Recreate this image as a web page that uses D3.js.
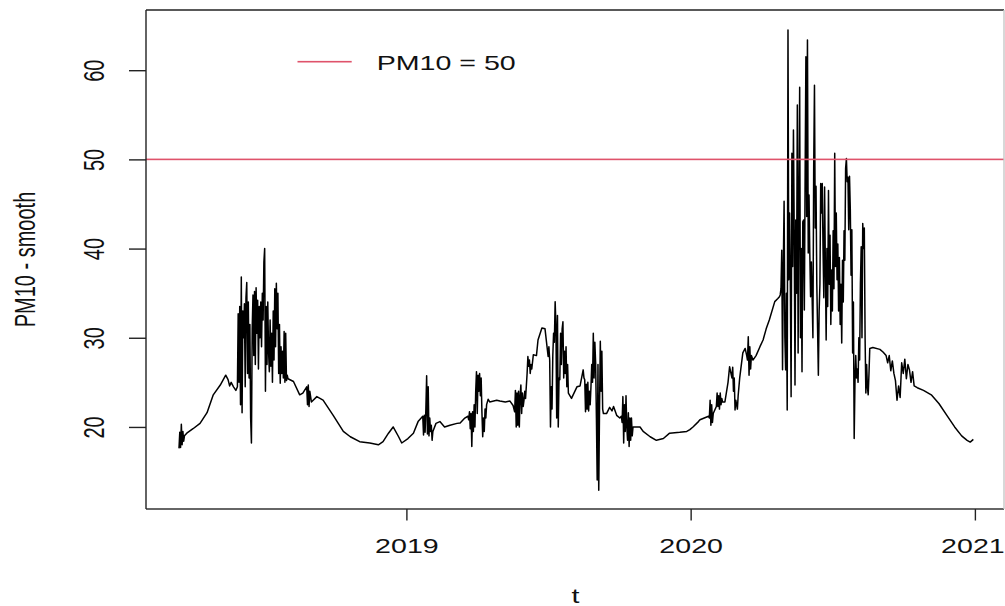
<!DOCTYPE html>
<html>
<head>
<meta charset="utf-8">
<script src="https://cdn.jsdelivr.net/npm/d3@7"></script>
<style>
  html, body { margin: 0; padding: 0; background: #fff; }
  svg { display: block; }
</style>
</head>
<body>
<svg id="chart" width="1005" height="606"></svg>
<script>
// Daily smoothed PM10 series (ts, frequency 365, starting 2018.2)
const seriesStart = 2018.2;
const seriesFreq = 365;

// day index within the series (irregular where the curve is smooth)
const dayIndex = [
  0,1,2,3,4,5,6,7,10,18,27,36,44,53,60,63,65,67,70,73,
  75,76,77,78,79,80,81,82,83,84,85,86,87,88,89,90,91,92,93,94,95,96,97,98,99,100,
  101,102,103,104,105,106,107,108,109,110,111,112,113,114,115,116,117,118,119,120,
  121,122,123,124,125,126,127,128,129,130,131,132,133,134,135,136,137,138,139,140,
  147,155,159,164,165,166,167,168,170,177,185,198,211,220,232,245,256,262,269,275,282,286,294,301,307,
  313,314,315,316,317,318,319,320,321,322,323,324,325,326,330,335,341,348,357,361,367,371,
  372,373,374,375,376,377,378,379,380,381,382,383,384,385,386,387,388,389,390,391,392,393,394,395,
  397,399,408,412,419,425,429,431,
  432,433,434,435,436,437,438,439,440,441,442,443,444,445,446,447,448,449,450,451,452,453,
  455,459,461,466,470,474,
  475,476,477,478,479,480,481,482,483,484,485,486,487,488,489,490,491,492,493,494,495,496,497,498,499,500,
  504,511,515,519,
  520,521,522,523,524,525,526,527,528,529,530,531,532,533,534,535,536,537,538,539,540,541,542,543,544,545,
  549,553,556,558,562,566,568,
  569,570,571,572,573,574,575,576,577,578,579,580,581,582,583,
  588,592,596,605,613,622,630,643,652,656,660,667,669,680,
  681,682,683,684,685,686,
  690,691,692,693,694,695,696,697,698,
  701,705,707,710,
  711,712,713,714,715,716,717,718,
  720,724,727,729,
  730,731,732,733,734,735,
  737,741,746,750,754,758,765,769,771,
  772,773,774,775,776,777,778,779,780,781,782,783,784,785,786,787,788,789,790,791,
  792,793,794,795,796,797,798,799,800,801,802,803,804,805,806,807,808,809,810,811,
  812,813,814,815,816,817,818,819,820,821,822,823,824,825,826,827,828,829,830,831,
  832,833,834,835,836,837,838,839,840,841,842,843,844,845,846,847,848,849,850,851,
  852,853,854,855,856,857,858,859,860,861,862,863,864,865,866,867,868,869,870,871,
  872,873,874,875,876,877,878,879,880,881,882,883,884,885,886,887,
  891,900,904,908,910,912,914,916,918,920,922,924,926,928,930,932,934,936,938,940,
  942,944,948,956,966,976,986,996,1005,1012,1016,1020
];

// smoothed PM10 value for each day above
const pm10Smooth = [
  17.6,19.4,17.7,20.3,18.0,19.5,18.4,19.0,19.3,19.8,20.4,21.6,23.6,24.7,25.8,25.3,24.6,25.0,24.5,24.1,
  24.5,32.7,25.0,33.5,22.5,36.8,21.6,33.0,30.0,33.8,24.5,34.5,36.2,26.0,34.0,25.5,31.5,21.0,18.2,31.0,34.8,28.0,35.2,27.0,35.6,30.5,
  34.2,26.5,33.5,30.0,34.0,29.0,35.0,32.0,38.5,40.0,24.0,33.5,27.0,34.0,28.5,26.2,32.0,26.8,30.5,25.0,
  33.0,27.5,35.5,29.0,36.1,31.0,35.0,26.0,31.5,24.9,29.0,26.0,28.5,25.5,30.7,25.0,30.5,25.2,25.8,25.4,
  25.1,23.6,23.8,24.5,22.5,24.7,22.3,24.0,22.8,23.4,23.0,21.3,19.5,18.9,18.35,18.2,18.0,18.35,19.3,20.0,18.9,18.2,18.7,19.3,20.6,
  21.2,19.1,21.3,19.4,22.0,25.75,19.2,24.5,19.0,21.0,19.5,20.2,18.5,19.5,20.4,20.6,20.0,20.2,20.4,20.45,21.0,21.2,
  20.8,21.7,19.8,21.5,17.8,21.7,19.5,22.5,20.0,24.0,26.2,21.5,25.8,24.0,26.0,23.5,25.5,21.6,18.9,21.0,19.5,22.0,21.0,22.5,
  23.1,22.8,23.0,22.9,22.8,22.9,22.4,21.7,
  24.1,20.0,23.8,20.2,24.0,20.0,23.5,24.7,21.5,23.8,22.3,23.0,24.0,23.2,24.6,26.0,27.9,26.8,27.5,26.0,27.0,26.5,
  28.1,28.0,29.75,31.1,31.0,27.9,
  29.0,27.5,20.0,24.5,22.0,28.0,30.5,29.5,34.05,31.5,21.0,32.5,20.0,25.5,25.3,30.5,27.0,31.0,31.8,25.5,28.5,26.0,29.0,24.5,27.0,23.8,
  23.2,24.5,24.6,26.4,
  25.5,25.3,21.7,24.8,22.0,25.0,21.8,24.0,22.5,24.5,27.0,25.0,30.5,25.5,29.5,27.2,21.0,14.05,27.0,12.9,22.0,29.6,24.0,28.5,22.0,21.5,
  21.5,22.2,21.8,22.3,21.3,21.0,21.2,
  20.5,23.4,18.2,22.5,19.5,23.5,20.0,18.5,21.6,17.8,21.0,18.5,21.0,19.0,20.0,
  20.0,20.0,19.5,18.9,18.5,18.7,19.3,19.4,19.5,19.7,20.0,20.6,20.8,21.2,
  21.0,23.0,20.2,22.5,20.5,21.5,
  22.3,23.8,22.3,23.5,22.0,23.8,22.5,23.2,22.8,
  22.8,25.0,26.75,25.5,
  26.7,24.0,25.5,21.9,23.0,22.5,22.0,23.5,
  25.5,28.3,28.8,28.0,
  27.5,30.1,25.8,29.0,26.5,28.0,
  27.5,28.0,29.0,29.75,31.0,32.0,34.05,34.4,34.6,
  34.8,35.5,39.8,26.4,38.0,45.3,30.0,26.4,35.0,21.9,64.5,36.5,44.0,36.5,23.4,50.7,38.0,53.3,42.0,24.7,
  43.2,35.0,56.1,28.3,45.0,58.1,30.0,40.0,26.2,43.0,43.2,33.1,48.0,61.5,43.6,63.4,39.5,46.0,39.5,34.6,
  38.5,34.6,30.0,49.0,58.3,42.3,47.0,36.0,31.0,25.8,33.0,36.0,47.3,44.0,47.3,40.0,34.5,46.9,38.0,29.75,
  40.0,33.5,46.5,36.0,41.5,31.5,37.6,33.0,42.0,35.5,50.7,38.0,44.0,36.5,40.5,33.0,39.0,31.5,36.0,29.4,
  38.7,34.0,42.0,38.7,49.0,50.1,47.5,48.0,42.1,48.1,44.5,37.0,42.1,28.3,34.0,18.7,25.0,28.0,25.5,26.5,
  25.0,30.0,27.5,36.0,40.2,30.0,42.8,40.0,42.3,30.0,23.8,27.0,24.5,23.6,26.0,28.8,
  28.9,28.7,28.4,28.0,27.2,28.0,26.3,27.4,26.0,25.2,23.0,24.6,23.3,27.2,26.0,27.6,25.4,27.0,26.4,25.0,
  26.2,24.6,24.4,24.1,23.6,22.6,21.3,20.0,19.0,18.5,18.3,18.6
];

const xTickYears = [2019, 2020, 2021];
const yTickValues = [20, 30, 40, 50, 60];
const limitValue = 50;
const legendLabel = "PM10 = 50";
const xTitle = "t";
const yTitle = "PM10 - smooth";

if (dayIndex.length !== pm10Smooth.length) {
  console.error("length mismatch", dayIndex.length, pm10Smooth.length);
}

const points = dayIndex.map((d, i) => ({ t: seriesStart + d / seriesFreq, v: pm10Smooth[i] }));

// ---- layout ----
const plot = { left: 146, right: 1004, top: 10, bottom: 509 };
const font = "'Liberation Sans', Arial, Helvetica, sans-serif";
const fontSize = 20;
const stretch = 1.43;      // wide glyphs of the device
const ink = "#111";
const limitColor = "#DF536B";
const limitWidth = 1.6;

const svg = d3.select("#chart");

const x = d3.scaleLinear().domain([2018.0839, 2021.1024]).range([plot.left, plot.right]);
const y = d3.scaleLinear().domain([10.8, 66.75]).range([plot.bottom, plot.top]);

// clip for the series
svg.append("defs").append("clipPath").attr("id", "plotClip")
  .append("rect")
  .attr("x", plot.left).attr("y", plot.top)
  .attr("width", plot.right - plot.left).attr("height", plot.bottom - plot.top);

// series line
const line = d3.line().x(d => x(d.t)).y(d => y(d.v));
svg.append("path")
  .datum(points)
  .attr("clip-path", "url(#plotClip)")
  .attr("fill", "none")
  .attr("stroke", "#000")
  .attr("stroke-width", 1.5)
  .attr("stroke-linejoin", "round")
  .attr("d", line);

// reference level PM10 = 50, drawn as a thin band across the plot
svg.append("rect")
  .attr("x", plot.left)
  .attr("width", plot.right - plot.left)
  .attr("y", y(limitValue) - limitWidth / 2)
  .attr("height", limitWidth)
  .attr("fill", limitColor);

// plot box
const box = svg.append("g").attr("stroke-width", 1.4).attr("fill", "none");
box.append("line").attr("x1", plot.left).attr("x2", plot.right).attr("y1", plot.top).attr("y2", plot.top).attr("stroke", "#222");
box.append("line").attr("x1", plot.left).attr("x2", plot.right).attr("y1", plot.bottom).attr("y2", plot.bottom).attr("stroke", "#333");
box.append("line").attr("x1", plot.left).attr("x2", plot.left).attr("y1", plot.top).attr("y2", plot.bottom).attr("stroke", "#222");
box.append("line").attr("x1", plot.right).attr("x2", plot.right).attr("y1", plot.top).attr("y2", plot.bottom).attr("stroke", "#c8c8c8");

// y axis
const gy = svg.append("g")
  .attr("transform", `translate(${plot.left},0)`)
  .call(d3.axisLeft(y).tickValues(yTickValues).tickSize(17).tickFormat(d3.format("d")));
gy.select(".domain").remove();
gy.selectAll(".tick line").attr("stroke", "#222").attr("stroke-width", 1.4);
gy.selectAll(".tick text")
  .attr("x", null).attr("dy", null)
  .attr("text-anchor", "middle")
  .attr("fill", ink)
  .style("font-family", font).style("font-size", fontSize + "px")
  .attr("transform", `translate(-42.5,0) scale(${stretch},1) rotate(-90)`);

// x axis
const gx = svg.append("g")
  .attr("transform", `translate(0,${plot.bottom})`)
  .call(d3.axisBottom(x).tickValues(xTickYears).tickSize(11.5).tickFormat(d3.format("d")));
gx.select(".domain").remove();
gx.selectAll(".tick line").attr("stroke", "#222").attr("stroke-width", 1.4);
// the last label sits against the right edge of the device; nudge it inward
gx.selectAll(".tick text")
  .attr("y", null).attr("dy", null)
  .attr("text-anchor", "middle")
  .attr("fill", ink)
  .style("font-family", font).style("font-size", fontSize + "px")
  .attr("transform", (d, i, nodes) =>
    `translate(${i === nodes.length - 1 ? -2.5 : 0},43.7) scale(${stretch},1)`);

// axis titles
svg.append("text")
  .attr("transform", `translate(575.5,603) scale(${stretch},1)`)
  .attr("text-anchor", "middle")
  .attr("fill", ink)
  .style("font-family", font).style("font-size", fontSize + "px")
  .text(xTitle);

svg.append("text")
  .attr("transform", `translate(35,${(plot.top + plot.bottom) / 2}) scale(${stretch},1) rotate(-90)`)
  .attr("text-anchor", "middle")
  .attr("fill", ink)
  .style("font-family", font).style("font-size", fontSize + "px")
  .text(yTitle);

// legend
const legend = svg.append("g");
legend.append("rect")
  .attr("x", 297.5).attr("width", 54.2)
  .attr("y", 61.7 - limitWidth / 2).attr("height", limitWidth)
  .attr("fill", limitColor);
legend.append("text")
  .attr("transform", `translate(376.7,69.5) scale(${stretch},1)`)
  .attr("fill", ink)
  .style("font-family", font).style("font-size", fontSize + "px")
  .text(legendLabel);
</script>
</body>
</html>
